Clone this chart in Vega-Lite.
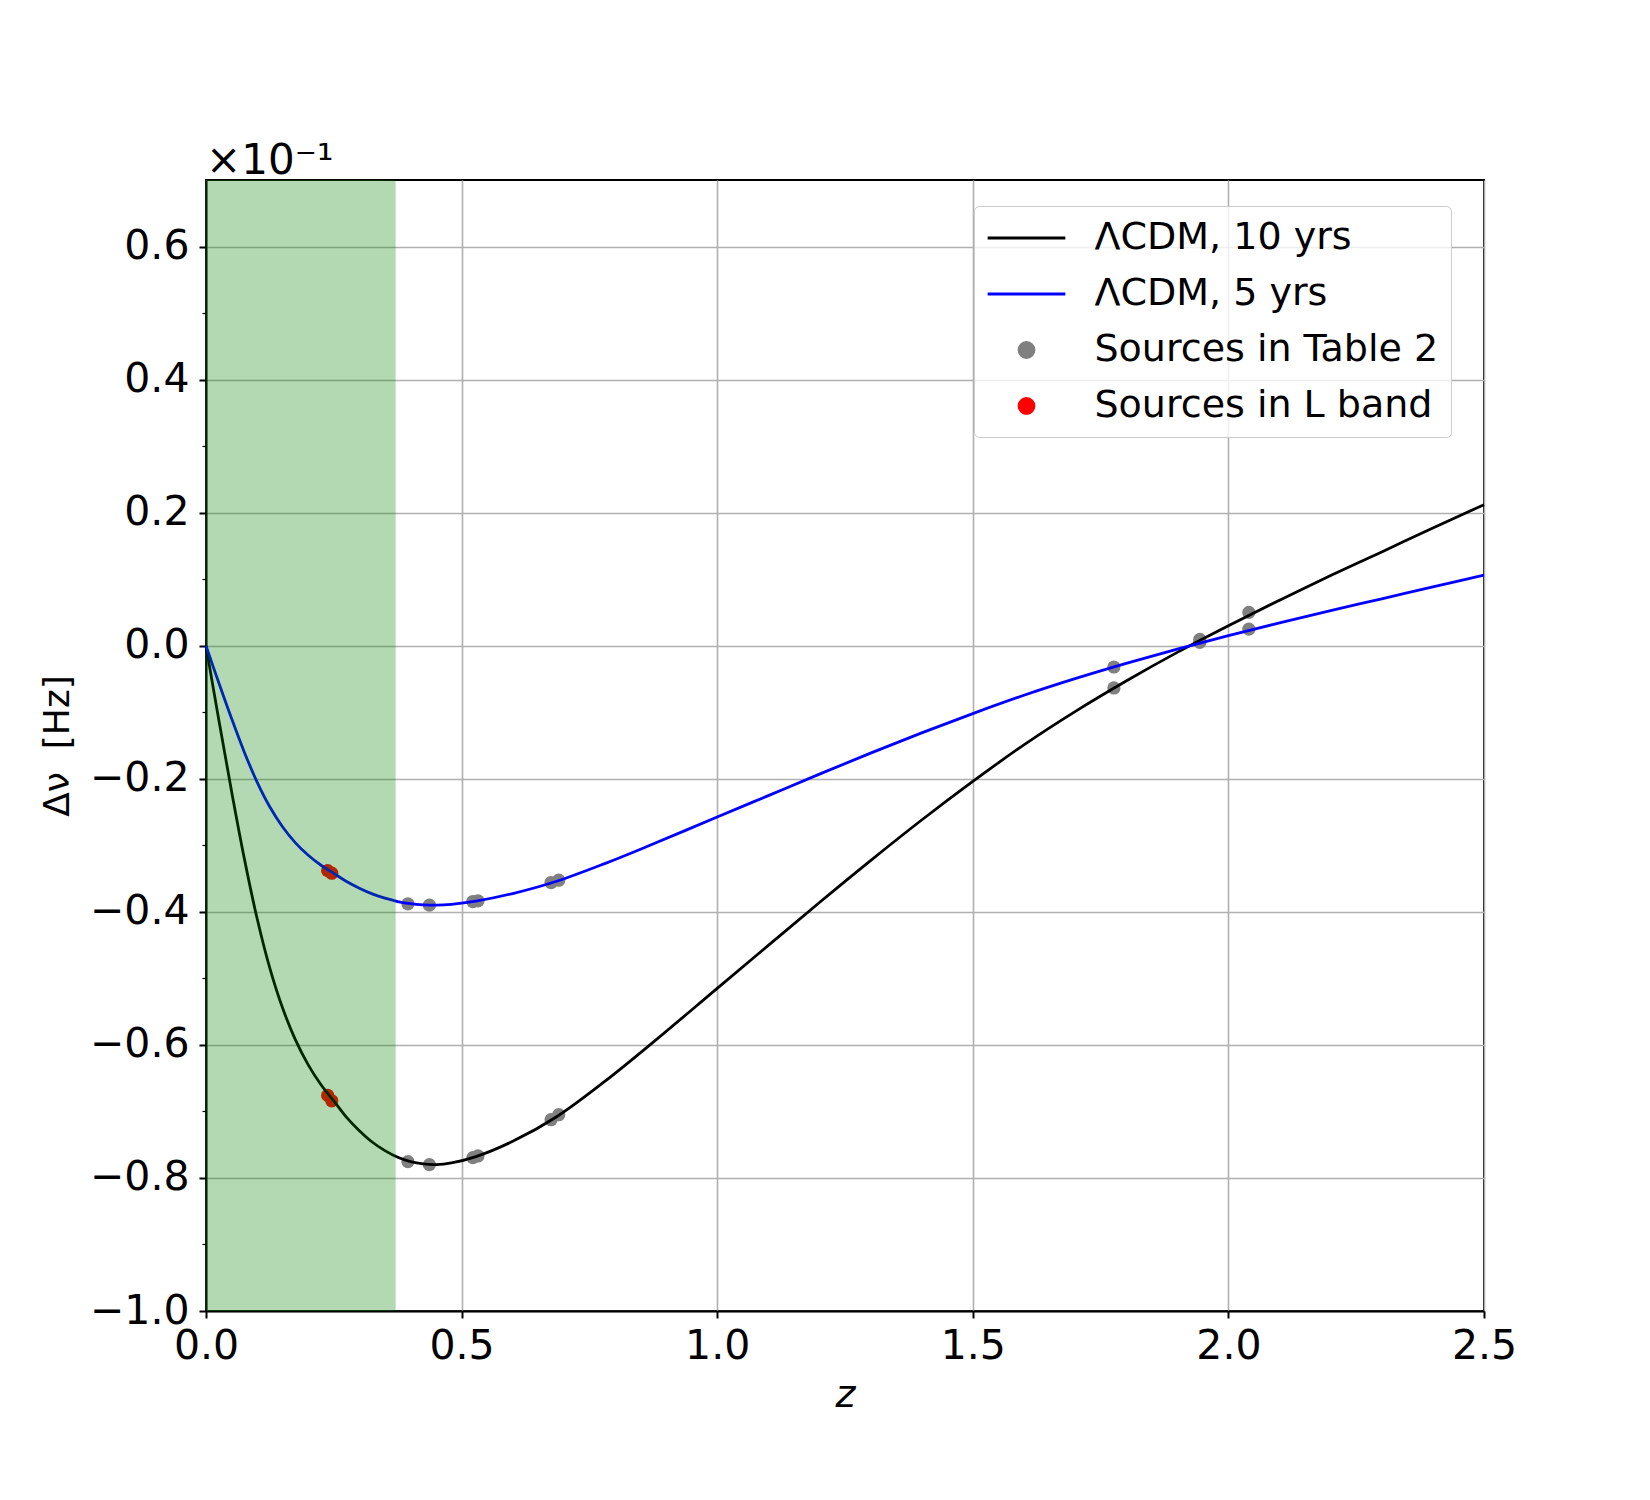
{
  "$schema": "https://vega.github.io/schema/vega-lite/v6.json",
  "width": 1278,
  "height": 1131,
  "autosize": {"type": "none"},
  "padding": {"left": 206, "top": 180, "right": 166, "bottom": 189},
  "background": "white",
  "title": {"text": "×10⁻¹", "anchor": "start", "frame": "group", "fontSize": 42, "font": "DejaVu Sans", "fontWeight": "normal", "offset": -3, "color": "black"},
  "datasets": {
    "curves": [
      {"z": 0, "v": 0, "series": "ΛCDM, 10 yrs"},
      {"z": 0.025, "v": -0.1113, "series": "ΛCDM, 10 yrs"},
      {"z": 0.05, "v": -0.2188, "series": "ΛCDM, 10 yrs"},
      {"z": 0.075, "v": -0.32, "series": "ΛCDM, 10 yrs"},
      {"z": 0.1, "v": -0.41, "series": "ΛCDM, 10 yrs"},
      {"z": 0.125, "v": -0.485, "series": "ΛCDM, 10 yrs"},
      {"z": 0.15, "v": -0.545, "series": "ΛCDM, 10 yrs"},
      {"z": 0.175, "v": -0.5925, "series": "ΛCDM, 10 yrs"},
      {"z": 0.2, "v": -0.63, "series": "ΛCDM, 10 yrs"},
      {"z": 0.225, "v": -0.66, "series": "ΛCDM, 10 yrs"},
      {"z": 0.25, "v": -0.6843, "series": "ΛCDM, 10 yrs"},
      {"z": 0.275, "v": -0.709, "series": "ΛCDM, 10 yrs"},
      {"z": 0.3, "v": -0.729, "series": "ΛCDM, 10 yrs"},
      {"z": 0.325, "v": -0.746, "series": "ΛCDM, 10 yrs"},
      {"z": 0.35, "v": -0.759, "series": "ΛCDM, 10 yrs"},
      {"z": 0.375, "v": -0.769, "series": "ΛCDM, 10 yrs"},
      {"z": 0.4, "v": -0.7755, "series": "ΛCDM, 10 yrs"},
      {"z": 0.425, "v": -0.779, "series": "ΛCDM, 10 yrs"},
      {"z": 0.45, "v": -0.78, "series": "ΛCDM, 10 yrs"},
      {"z": 0.48, "v": -0.7775, "series": "ΛCDM, 10 yrs"},
      {"z": 0.528, "v": -0.768, "series": "ΛCDM, 10 yrs"},
      {"z": 0.6, "v": -0.745, "series": "ΛCDM, 10 yrs"},
      {"z": 0.686, "v": -0.708, "series": "ΛCDM, 10 yrs"},
      {"z": 0.78, "v": -0.655, "series": "ΛCDM, 10 yrs"},
      {"z": 0.8685, "v": -0.6, "series": "ΛCDM, 10 yrs"},
      {"z": 1.0, "v": -0.515, "series": "ΛCDM, 10 yrs"},
      {"z": 1.1, "v": -0.4505, "series": "ΛCDM, 10 yrs"},
      {"z": 1.2, "v": -0.386, "series": "ΛCDM, 10 yrs"},
      {"z": 1.3, "v": -0.323, "series": "ΛCDM, 10 yrs"},
      {"z": 1.4, "v": -0.262, "series": "ΛCDM, 10 yrs"},
      {"z": 1.5, "v": -0.204, "series": "ΛCDM, 10 yrs"},
      {"z": 1.6, "v": -0.149, "series": "ΛCDM, 10 yrs"},
      {"z": 1.7, "v": -0.099, "series": "ΛCDM, 10 yrs"},
      {"z": 1.8, "v": -0.053, "series": "ΛCDM, 10 yrs"},
      {"z": 1.9, "v": -0.01, "series": "ΛCDM, 10 yrs"},
      {"z": 2.0, "v": 0.03, "series": "ΛCDM, 10 yrs"},
      {"z": 2.1, "v": 0.0685, "series": "ΛCDM, 10 yrs"},
      {"z": 2.2, "v": 0.1055, "series": "ΛCDM, 10 yrs"},
      {"z": 2.3, "v": 0.141, "series": "ΛCDM, 10 yrs"},
      {"z": 2.4, "v": 0.177, "series": "ΛCDM, 10 yrs"},
      {"z": 2.5, "v": 0.212, "series": "ΛCDM, 10 yrs"},
      {"z": 0, "v": 0, "series": "ΛCDM, 5 yrs"},
      {"z": 0.025, "v": -0.0557, "series": "ΛCDM, 5 yrs"},
      {"z": 0.05, "v": -0.1094, "series": "ΛCDM, 5 yrs"},
      {"z": 0.075, "v": -0.16, "series": "ΛCDM, 5 yrs"},
      {"z": 0.1, "v": -0.205, "series": "ΛCDM, 5 yrs"},
      {"z": 0.125, "v": -0.2425, "series": "ΛCDM, 5 yrs"},
      {"z": 0.15, "v": -0.2725, "series": "ΛCDM, 5 yrs"},
      {"z": 0.175, "v": -0.2963, "series": "ΛCDM, 5 yrs"},
      {"z": 0.2, "v": -0.315, "series": "ΛCDM, 5 yrs"},
      {"z": 0.225, "v": -0.33, "series": "ΛCDM, 5 yrs"},
      {"z": 0.25, "v": -0.3422, "series": "ΛCDM, 5 yrs"},
      {"z": 0.275, "v": -0.3545, "series": "ΛCDM, 5 yrs"},
      {"z": 0.3, "v": -0.3645, "series": "ΛCDM, 5 yrs"},
      {"z": 0.325, "v": -0.373, "series": "ΛCDM, 5 yrs"},
      {"z": 0.35, "v": -0.3795, "series": "ΛCDM, 5 yrs"},
      {"z": 0.375, "v": -0.3845, "series": "ΛCDM, 5 yrs"},
      {"z": 0.4, "v": -0.3878, "series": "ΛCDM, 5 yrs"},
      {"z": 0.425, "v": -0.3895, "series": "ΛCDM, 5 yrs"},
      {"z": 0.45, "v": -0.39, "series": "ΛCDM, 5 yrs"},
      {"z": 0.48, "v": -0.3888, "series": "ΛCDM, 5 yrs"},
      {"z": 0.528, "v": -0.384, "series": "ΛCDM, 5 yrs"},
      {"z": 0.6, "v": -0.3725, "series": "ΛCDM, 5 yrs"},
      {"z": 0.686, "v": -0.354, "series": "ΛCDM, 5 yrs"},
      {"z": 0.78, "v": -0.3275, "series": "ΛCDM, 5 yrs"},
      {"z": 0.8685, "v": -0.3, "series": "ΛCDM, 5 yrs"},
      {"z": 1.0, "v": -0.2575, "series": "ΛCDM, 5 yrs"},
      {"z": 1.1, "v": -0.2253, "series": "ΛCDM, 5 yrs"},
      {"z": 1.2, "v": -0.193, "series": "ΛCDM, 5 yrs"},
      {"z": 1.3, "v": -0.1615, "series": "ΛCDM, 5 yrs"},
      {"z": 1.4, "v": -0.131, "series": "ΛCDM, 5 yrs"},
      {"z": 1.5, "v": -0.102, "series": "ΛCDM, 5 yrs"},
      {"z": 1.6, "v": -0.0745, "series": "ΛCDM, 5 yrs"},
      {"z": 1.7, "v": -0.0495, "series": "ΛCDM, 5 yrs"},
      {"z": 1.8, "v": -0.0265, "series": "ΛCDM, 5 yrs"},
      {"z": 1.9, "v": -0.005, "series": "ΛCDM, 5 yrs"},
      {"z": 2.0, "v": 0.015, "series": "ΛCDM, 5 yrs"},
      {"z": 2.1, "v": 0.0343, "series": "ΛCDM, 5 yrs"},
      {"z": 2.2, "v": 0.0528, "series": "ΛCDM, 5 yrs"},
      {"z": 2.3, "v": 0.0705, "series": "ΛCDM, 5 yrs"},
      {"z": 2.4, "v": 0.0885, "series": "ΛCDM, 5 yrs"},
      {"z": 2.5, "v": 0.106, "series": "ΛCDM, 5 yrs"}
    ],
    "sources": [
      {"z": 0.395, "v": -0.7755, "series": "Sources in Table 2"},
      {"z": 0.395, "v": -0.388, "series": "Sources in Table 2"},
      {"z": 0.437, "v": -0.78, "series": "Sources in Table 2"},
      {"z": 0.437, "v": -0.39, "series": "Sources in Table 2"},
      {"z": 0.522, "v": -0.7695, "series": "Sources in Table 2"},
      {"z": 0.522, "v": -0.3845, "series": "Sources in Table 2"},
      {"z": 0.532, "v": -0.767, "series": "Sources in Table 2"},
      {"z": 0.532, "v": -0.3835, "series": "Sources in Table 2"},
      {"z": 0.675, "v": -0.7125, "series": "Sources in Table 2"},
      {"z": 0.675, "v": -0.356, "series": "Sources in Table 2"},
      {"z": 0.69, "v": -0.705, "series": "Sources in Table 2"},
      {"z": 0.69, "v": -0.3525, "series": "Sources in Table 2"},
      {"z": 1.776, "v": -0.0635, "series": "Sources in Table 2"},
      {"z": 1.776, "v": -0.032, "series": "Sources in Table 2"},
      {"z": 1.944, "v": 0.0095, "series": "Sources in Table 2"},
      {"z": 1.944, "v": 0.005, "series": "Sources in Table 2"},
      {"z": 2.04, "v": 0.05, "series": "Sources in Table 2"},
      {"z": 2.04, "v": 0.025, "series": "Sources in Table 2"},
      {"z": 0.238, "v": -0.676, "series": "Sources in L band"},
      {"z": 0.238, "v": -0.338, "series": "Sources in L band"},
      {"z": 0.246, "v": -0.684, "series": "Sources in L band"},
      {"z": 0.246, "v": -0.342, "series": "Sources in L band"}
    ],
    "band": [
      {"z0": 0, "z1": 0.371, "ylo": -1.0, "yhi": 0.7}
    ]
  },
  "encoding": {
    "color": {
      "field": "series", "type": "nominal",
      "scale": {"domain": ["ΛCDM, 10 yrs", "ΛCDM, 5 yrs", "Sources in Table 2", "Sources in L band"], "range": ["#000000", "#0000ff", "#808080", "#ff0000"]},
      "legend": {
        "title": null,
        "orient": "none",
        "legendX": 768,
        "legendY": 26,
        "padding": 12,
        "strokeColor": "#cccccc",
        "fillColor": "rgba(255,255,255,0.8)",
        "cornerRadius": 5,
        "labelFontSize": 38,
        "labelFont": "DejaVu Sans",
        "labelColor": "black",
        "labelLimit": 600,
        "labelOffset": 48,
        "rowPadding": 17,
        "symbolSize": 1369,
        "symbolOffset": 20.5,
        "symbolStrokeWidth": 2.8,
        "symbolType": "stroke",
        "encode": {
          "symbols": {
            "update": {
              "shape": {"signal": "(datum.value == 'Sources in Table 2' || datum.value == 'Sources in L band') ? 'M-0.405,0A0.405,0.405,0,1,0,0.405,0A0.405,0.405,0,1,0,-0.405,0Z' : 'M-2.1,0L2.1,0'"},
              "fill": {"signal": "datum.value == 'Sources in Table 2' ? '#808080' : (datum.value == 'Sources in L band' ? '#ff0000' : 'transparent')"},
              "stroke": {"signal": "datum.value == 'ΛCDM, 10 yrs' ? '#000000' : (datum.value == 'ΛCDM, 5 yrs' ? '#0000ff' : 'transparent')"},
              "strokeWidth": {"value": 2.8},
              "opacity": {"value": 1}
            }
          }
        }
      }
    }
  },
  "layer": [
    {
      "data": {"name": "sources"},
      "mark": {"type": "point", "filled": true, "size": 175, "opacity": 1, "strokeWidth": 0},
      "encoding": {
        "x": {
          "field": "z", "type": "quantitative",
          "scale": {"domain": [0, 2.5], "nice": false, "zero": false},
          "axis": {"values": [0, 0.5, 1.0, 1.5, 2.0, 2.5], "format": ".1f", "title": "z", "titleFontStyle": "italic", "titleFontSize": 38, "titlePadding": 10, "labelPadding": 8}
        },
        "y": {
          "field": "v", "type": "quantitative",
          "scale": {"domain": [-1.0, 0.7], "nice": false, "zero": false},
          "axis": {"orient": "left", "values": [-1.0, -0.8, -0.6, -0.4, -0.2, 0, 0.2, 0.4, 0.6], "labelExpr": "replace(format(datum.value, '.1f'), '-', '−')", "title": "Δν\u00a0\u00a0[Hz]", "titleFontSize": 36, "titlePadding": 13, "labelPadding": 10}
        }
      }
    },
    {
      "data": {"name": "curves"},
      "mark": {"type": "line", "strokeWidth": 2.8, "interpolate": "catmull-rom"},
      "encoding": {
        "x": {"field": "z", "type": "quantitative"},
        "y": {"field": "v", "type": "quantitative", "axis": null}
      }
    },
    {
      "data": {"name": "band"},
      "mark": {"type": "rect", "opacity": 0.3},
      "encoding": {
        "x": {"field": "z0", "type": "quantitative"},
        "x2": {"field": "z1"},
        "y": {"field": "ylo", "type": "quantitative", "axis": {"orient": "left", "values": [-0.9, -0.7, -0.5, -0.3, -0.1, 0.1, 0.3, 0.5], "labels": false, "grid": false, "domain": false, "title": null, "tickSize": 4, "tickWidth": 1.2}},
        "y2": {"field": "yhi"},
        "color": {"value": "#008000"}
      }
    }
  ],
  "resolve": {"axis": {"y": "independent"}},
  "config": {
    "font": "DejaVu Sans",
    "view": {"stroke": "black", "strokeWidth": 2},
    "axis": {
      "labelFont": "DejaVu Sans",
      "labelFontSize": 41,
      "labelColor": "black",
      "titleFont": "DejaVu Sans",
      "titleFontWeight": "normal",
      "titleColor": "black",
      "domainColor": "black",
      "domainWidth": 2,
      "tickColor": "black",
      "tickWidth": 2,
      "tickSize": 7,
      "gridColor": "#b0b0b0",
      "gridWidth": 1.6,
      "gridOpacity": 1,
      "labelFlush": false,
      "labelOverlap": false
    }
  }
}
